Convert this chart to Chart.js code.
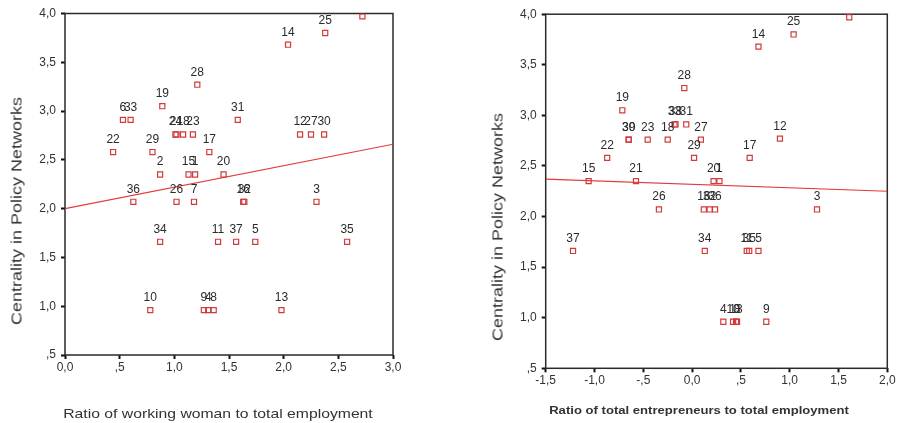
<!DOCTYPE html>
<html>
<head>
<meta charset="utf-8">
<script src="https://cdn.jsdelivr.net/npm/chart.js@4.4.0/dist/chart.umd.min.js"></script>
<style>
  html, body { margin: 0; padding: 0; background: #fff; width: 900px; height: 423px; overflow: hidden;
    font-family: "Liberation Sans", Arial, sans-serif; }
  .wrap { position: absolute; top: 0; height: 423px; }
  #wrapL { left: 0; width: 440px; }
  #wrapR { left: 440px; width: 460px; }
  .ytitle { position: absolute; white-space: nowrap; transform: translate(-50%, -50%) rotate(-90deg) scaleX(1.2);
    font-size: 15px; color: #333; }
  .xtitle { position: absolute; white-space: nowrap; color: #333; }
</style>
</head>
<body>
<div class="wrap" id="wrapL"><canvas id="cL" width="440" height="423"></canvas></div>
<div class="wrap" id="wrapR"><canvas id="cR" width="460" height="423"></canvas></div>
<div class="ytitle" style="left:16px;top:211px;">Centrality in Policy Networks</div>
<div class="ytitle" style="left:497px;top:227px;">Centrality in Policy Networks</div>
<div class="xtitle" style="left:218px;top:413px;font-size:13px;transform:translate(-50%,-50%) scaleX(1.21);">Ratio of working woman to total employment</div>
<div class="xtitle" style="left:699px;top:410px;font-size:11px;font-weight:bold;transform:translate(-50%,-50%) scaleX(1.19);">Ratio of total entrepreneurs to total employment</div>

<script>
// ---- Working women panel ----
const womenIds = ['28','19','6','33','31','24','21','18','23','12','27','30','22','29','17',
  '2','15','1','20','36','26','7','16','32','3','34','11','37','5','35','10','9','4','8','13','14','25',''];
const womenRatio = [1.21,0.89,0.53,0.60,1.58,1.01,1.02,1.08,1.17,2.15,2.25,2.37,0.44,0.80,1.32,
  0.87,1.13,1.19,1.45,0.625,1.02,1.18,1.63,1.64,2.30,0.87,1.40,1.565,1.74,2.58,0.78,1.27,1.31,1.36,1.98,2.04,2.38,2.72];
const womenCentrality = [3.27,3.05,2.91,2.91,2.91,2.76,2.76,2.76,2.76,2.76,2.76,2.76,2.58,2.58,2.58,
  2.35,2.35,2.35,2.35,2.07,2.07,2.07,2.07,2.07,2.07,1.66,1.66,1.66,1.66,1.66,0.96,0.96,0.96,0.96,0.96,3.68,3.80,3.97];
const womenFitX = [0, 3.0];
const womenFitY = [2.00, 2.66];
const womenTickLabels = ['0,0', ',5', '1,0', '1,5', '2,0', '2,5', '3,0'];

// ---- Entrepreneurs panel ----
const entIds = ['28','19','33','38','31','30','39','23','18','27','12','22','29','17','15','21','20','1',
  '26','16','32','36','3','37','34','11','35','5','4','10','13','8','9','14','25',''];
const entRatio = [-0.08,-0.715,-0.18,-0.17,-0.06,-0.65,-0.65,-0.455,-0.25,0.09,0.90,-0.87,0.02,0.59,-1.06,-0.575,0.22,0.28,
  -0.34,0.12,0.18,0.235,1.28,-1.22,0.13,0.56,0.585,0.68,0.32,0.42,0.45,0.46,0.76,0.68,1.04,1.61];
const entCentrality = [3.27,3.05,2.91,2.91,2.91,2.76,2.76,2.76,2.76,2.76,2.77,2.58,2.58,2.58,2.35,2.35,2.35,2.35,
  2.07,2.07,2.07,2.07,2.07,1.66,1.66,1.66,1.66,1.66,0.96,0.96,0.96,0.96,0.96,3.68,3.80,3.97];
const entFitX = [-1.5, 2.0];
const entFitY = [2.37, 2.25];
const entTickLabels = ['-1,5', '-1,0', '-,5', '0,0', ',5', '1,0', '1,5', '2,0'];

// shared y axis
const yTickLabels = [',5', '1,0', '1,5', '2,0', '2,5', '3,0', '3,5', '4,0'];
const yMin = 0.5, yMax = 4.0;

const FONT = '"Liberation Sans", Arial, sans-serif';
const MARK = '#d23a3a';

// box around the plotting area
const framePlugin = {
  id: 'frame',
  beforeDatasetsDraw(chart) {
    const a = chart.chartArea, ctx = chart.ctx;
    ctx.save();
    ctx.strokeStyle = '#2a2a2a';
    ctx.lineWidth = 1.5;
    ctx.strokeRect(a.left, a.top, a.right - a.left, a.bottom - a.top);
    ctx.restore();
  }
};

// case numbers printed above each marker
const idLabelPlugin = {
  id: 'idLabels',
  afterDatasetsDraw(chart) {
    const ids = chart.options.plugins.idLabels.ids;
    const meta = chart.getDatasetMeta(0);
    const a = chart.chartArea, ctx = chart.ctx;
    ctx.save();
    ctx.beginPath();
    ctx.rect(a.left, a.top, a.right - a.left, a.bottom - a.top);
    ctx.clip();
    ctx.font = '12px ' + FONT;
    ctx.fillStyle = '#2b2b2b';
    ctx.textAlign = 'center';
    ctx.textBaseline = 'alphabetic';
    meta.data.forEach((pt, i) => {
      if (ids[i]) ctx.fillText(ids[i], pt.x, pt.y - 9);
    });
    ctx.restore();
  }
};

function makePanel(canvasId, ids, xs, ys, fitX, fitY, xMin, xMax, xLabels, geo) {
  const points = xs.map((x, i) => ({ x: x, y: ys[i] }));
  const fit = fitX.map((x, i) => ({ x: x, y: fitY[i] }));
  return new Chart(document.getElementById(canvasId), {
    type: 'scatter',
    data: {
      datasets: [
        {
          data: points,
          pointStyle: 'rect',
          pointRadius: 3.6,
          pointBorderWidth: 1.2,
          pointBorderColor: MARK,
          pointBackgroundColor: 'rgba(255,255,255,0)',
          borderColor: MARK
        },
        {
          data: fit,
          showLine: true,
          pointRadius: 0,
          borderColor: '#e23a3a',
          borderWidth: 1.2,
          fill: false
        }
      ]
    },
    options: {
      responsive: false,
      animation: false,
      events: [],
      layout: { padding: { left: 0, top: geo.top, right: geo.right, bottom: 0 } },
      plugins: {
        legend: { display: false },
        tooltip: { enabled: false },
        idLabels: { ids: ids }
      },
      scales: {
        x: {
          type: 'linear', min: xMin, max: xMax,
          afterFit(s) { s.height = geo.xAxisH; },
          border: { display: false },
          grid: { drawOnChartArea: false, drawTicks: true, tickLength: 4, tickWidth: 2, tickColor: '#111' },
          ticks: {
            stepSize: 0.5, autoSkip: false, maxRotation: 0, padding: 1,
            color: '#333', font: { family: FONT, size: 12 },
            callback: (v) => xLabels[Math.round((v - xMin) / 0.5)]
          }
        },
        y: {
          type: 'linear', min: yMin, max: yMax,
          afterFit(s) { s.width = geo.yAxisW; },
          border: { display: false },
          grid: { drawOnChartArea: false, drawTicks: true, tickLength: 4, tickWidth: 2, tickColor: '#111' },
          ticks: {
            stepSize: 0.5, autoSkip: false, padding: 5,
            color: '#333', font: { family: FONT, size: 12 },
            callback: (v) => yTickLabels[Math.round((v - yMin) / 0.5)]
          }
        }
      }
    },
    plugins: [framePlugin, idLabelPlugin]
  });
}

makePanel('cL', womenIds, womenRatio, womenCentrality, womenFitX, womenFitY, 0, 3.0, womenTickLabels,
  { top: 13.5, right: 47, yAxisW: 65, xAxisH: 68 });
makePanel('cR', entIds, entRatio, entCentrality, entFitX, entFitY, -1.5, 2.0, entTickLabels,
  { top: 14.2, right: 12.7, yAxisW: 105.7, xAxisH: 54.7 });
</script>
</body>
</html>
